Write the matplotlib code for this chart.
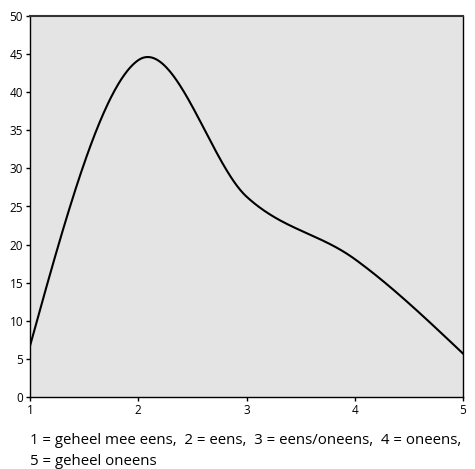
import numpy as np
import matplotlib
matplotlib.use("Agg")
import matplotlib.pyplot as plt

categories = [1, 2, 3, 4, 5]
values = [6.7, 44.2, 26.3, 18.1, 5.7]
yticks = [0, 5, 10, 15, 20, 25, 30, 35, 40, 45, 50]
caption = ["1 = geheel mee eens,  2 = eens,  3 = eens/oneens,  4 = oneens,",
           "5 = geheel oneens"]


def smooth_curve(x, y, xs):
    """Cubic Hermite curve: Catmull-Rom tangents inside, natural ends."""
    x = np.asarray(x, float)
    y = np.asarray(y, float)
    n = len(x)
    m = np.zeros(n)
    for i in range(1, n - 1):
        m[i] = (y[i + 1] - y[i - 1]) / (x[i + 1] - x[i - 1])
    d0 = (y[1] - y[0]) / (x[1] - x[0])
    dn = (y[-1] - y[-2]) / (x[-1] - x[-2])
    m[0] = (3 * d0 - m[1]) / 2
    m[-1] = (3 * dn - m[-2]) / 2
    out = np.empty_like(xs)
    for k, t in enumerate(xs):
        i = min(max(np.searchsorted(x, t) - 1, 0), n - 2)
        h = x[i + 1] - x[i]
        s = (t - x[i]) / h
        h00 = 2 * s**3 - 3 * s**2 + 1
        h10 = s**3 - 2 * s**2 + s
        h01 = -2 * s**3 + 3 * s**2
        h11 = s**3 - s**2
        out[k] = h00 * y[i] + h10 * h * m[i] + h01 * y[i + 1] + h11 * h * m[i + 1]
    return out


fig = plt.figure(figsize=(4.75, 4.69), dpi=100)
ax = fig.add_axes([30 / 475, 1 - 397 / 469, 433 / 475, 381 / 469])
ax.set_facecolor("#e4e4e4")

xs = np.linspace(categories[0], categories[-1], 400)
ax.plot(xs, smooth_curve(categories, values, xs), color="black", lw=1.5)

ax.set_xlim(1, 5)
ax.set_ylim(0, 50)
ax.set_xticks(categories)
ax.set_yticks(yticks)
ax.tick_params(axis="both", direction="out", length=3, width=1, pad=2,
               labelsize=8.5, color="black")
for lab in ax.get_xticklabels() + ax.get_yticklabels():
    lab.set_family("Open Sans")
for s in ax.spines.values():
    s.set_color("black")
    s.set_linewidth(1)
ax.spines["top"].set_color("#333333")
ax.spines["top"].set_linewidth(1.5)

fig.text(30 / 475, 1 - 440 / 469, caption[0], fontsize=10.8, family="Open Sans",
         va="center", ha="left")
fig.text(30 / 475, 1 - 461 / 469, caption[1], fontsize=10.8, family="Open Sans",
         va="center", ha="left")

fig.savefig("out.png", dpi=100)
